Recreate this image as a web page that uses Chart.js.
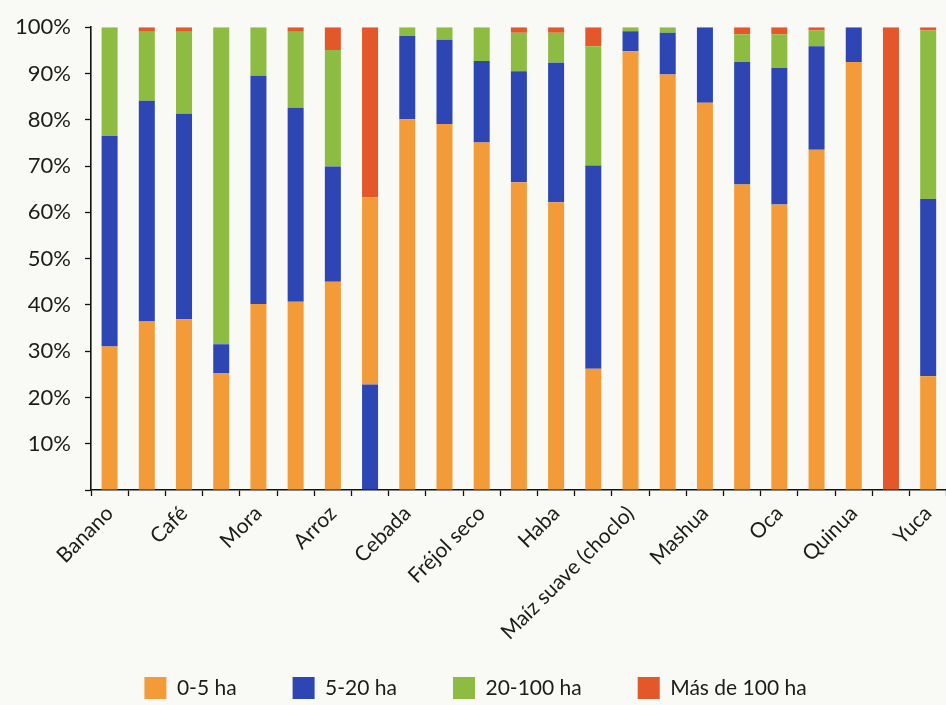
<!DOCTYPE html>
<html>
<head>
<meta charset="utf-8">
<script src="https://cdn.jsdelivr.net/npm/chart.js@4/dist/chart.umd.min.js"></script>
<style>
  html, body { margin: 0; padding: 0; background: #f9f9f6; overflow: hidden; width: 946px; height: 705px; }
  #chart { display: block; }
</style>
</head>
<body>
<canvas id="chart" width="951" height="705"></canvas>
<script>
// --- Data (share of area per farm size, %) ---
// only every other crop is labelled in the source picture
const cultivos = ['Banano', '', 'Café', '', 'Mora', '', 'Arroz', '', 'Cebada', '', 'Fréjol seco', '',
                  'Haba', '', 'Maíz suave (choclo)', '', 'Mashua', '', 'Oca', '', 'Quinua', '', 'Yuca'];

const ha0a5    = [31, 36.4, 36.9, 25.3, 40.2, 40.7, 45, 40.4, 80.1, 79.1, 75.1, 66.5, 62.2, 26.2, 94.8, 89.8, 83.7, 66, 61.7, 73.5, 92.5, 0, 24.6];
const ha5a20   = [45.5, 47.7, 44.4, 6.2, 49.3, 41.9, 24.9, 0, 18, 18.2, 17.6, 24, 30.1, 43.9, 4.3, 9, 16.3, 26.5, 29.5, 22.4, 7.5, 0, 38.3];
const ha20a100 = [23.5, 14.9, 17.7, 68.5, 10.5, 16.4, 25.2, 0, 1.9, 2.7, 7.3, 8.3, 6.5, 25.8, 0.9, 1.2, 0, 6, 7.3, 3.4, 0, 0, 36.4];
const haMas100 = [0, 1, 1, 0, 0, 1, 4.9, 36.8, 0, 0, 0, 1.2, 1.2, 4.1, 0, 0, 0, 1.5, 1.5, 0.7, 0, 100, 0.7];
// the 8th bar has its 5-20 ha block drawn under the 0-5 ha one
const ha5a20Abajo = [0, 0, 0, 0, 0, 0, 0, 22.8, 0, 0, 0, 0, 0, 0, 0, 0, 0, 0, 0, 0, 0, 0, 0];

const yTicks = [10, 20, 30, 40, 50, 60, 70, 80, 90, 100];

const NARANJA = '#f39b38';
const AZUL = '#2d46b4';
const VERDE = '#8ebb41';
const ROJO = '#e4572b';

Chart.defaults.font.family = "Lato, 'Open Sans', sans-serif";
Chart.defaults.color = '#1c1c1c';

const bar = { barPercentage: 0.43, categoryPercentage: 1, borderWidth: 0 };

new Chart(document.getElementById('chart'), {
    type: 'bar',
    data: {
        labels: cultivos,
        datasets: [
            { label: '5-20 ha (abajo)', data: ha5a20Abajo, backgroundColor: AZUL, ...bar },
            { label: '0-5 ha', data: ha0a5, backgroundColor: NARANJA, ...bar },
            { label: '5-20 ha', data: ha5a20, backgroundColor: AZUL, ...bar },
            { label: '20-100 ha', data: ha20a100, backgroundColor: VERDE, ...bar },
            { label: 'Más de 100 ha', data: haMas100, backgroundColor: ROJO, ...bar }
        ]
    },
    options: {
        responsive: false,
        animation: false,
        devicePixelRatio: 1,
        layout: { padding: { top: 26, left: 0, right: 0, bottom: 0 } },
        plugins: {
            tooltip: { enabled: false },
            legend: {
                position: 'bottom',
                maxHeight: 84,
                labels: {
                    boxWidth: 22, boxHeight: 22, padding: 56,
                    font: { size: 21 }, color: '#1c1c1c',
                    filter: item => item.datasetIndex !== 0
                }
            }
        },
        scales: {
            x: {
                stacked: true,
                grid: { offset: true, drawOnChartArea: false, color: '#111', tickLength: 6, tickWidth: 1.3 },
                border: { color: '#111', width: 1.6 },
                ticks: { autoSkip: false, maxRotation: 45, minRotation: 45, padding: 5, font: { size: 21 }, color: '#1c1c1c' },
                afterFit: s => {
                    s.height = 131;
                    // let the long rotated labels run into the legend band
                    s._computeLabelArea = () => undefined;
                }
            },
            y: {
                stacked: true,
                min: 0, max: 100,
                afterBuildTicks: s => { s.ticks = [0, ...yTicks].map(v => ({ value: v })); },
                grid: { drawOnChartArea: false, color: '#111', tickLength: 6, tickWidth: 1.3 },
                border: { color: '#111', width: 1.6 },
                ticks: { padding: 14, font: { size: 22 }, color: '#1c1c1c', callback: v => v === 0 ? '' : v + '%' },
                afterFit: s => { s.width = 91; }
            }
        }
    }
});
</script>
</body>
</html>
